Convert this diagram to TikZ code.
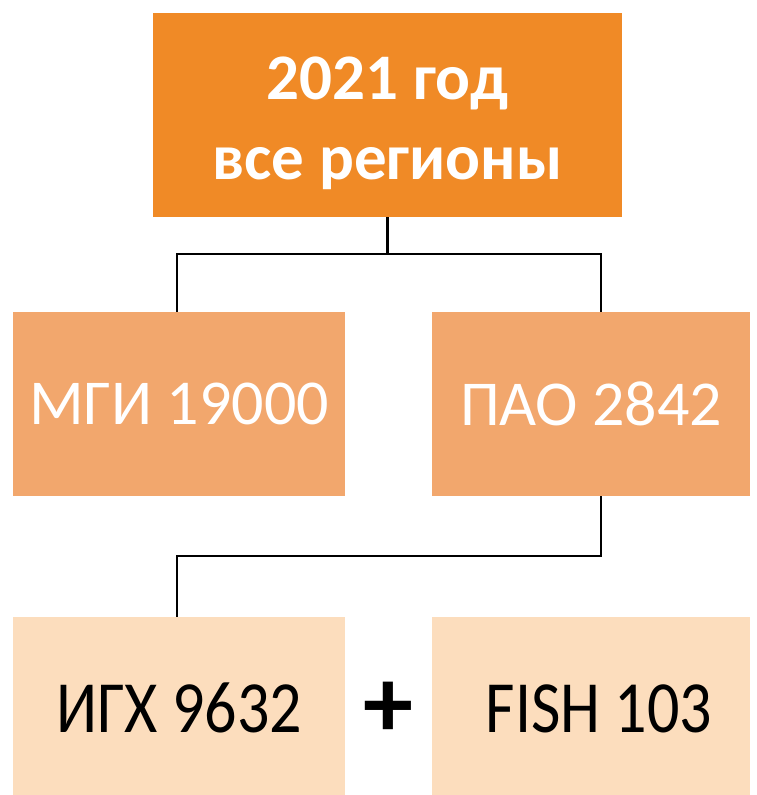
\documentclass[tikz,border=0pt]{standalone}
\usepackage{fontspec}
\setmainfont{Carlito}
\usepackage{tikz}
\usetikzlibrary{positioning}
\definecolor{yearOrange}{HTML}{F08A26}
\definecolor{regionOrange}{HTML}{F2A76D}
\definecolor{partPeach}{HTML}{FCDDBD}
\newcommand{\tallpart}[1]{\rule{0pt}{54pt}\scalebox{1}[1.15]{#1}}
\tikzset{
  treebox/.style={inner sep=0pt, align=center, font=\fontsize{64}{77}\selectfont},
  yearbox/.style={treebox, fill=yearOrange, text=white, font=\bfseries\fontsize{65}{80}\selectfont},
  regionbox/.style={treebox, fill=regionOrange, text=white},
  partbox/.style={treebox, fill=partPeach, text=black},
  treeline/.style={draw=black, line width=2.2pt}
}
\begin{document}
\begin{tikzpicture}[x=1pt, y=-1pt]
    \useasboundingbox[fill=white] (0,0) rectangle (757,795);
    \node[yearbox, minimum width=469pt, minimum height=204pt] (year) at (387.5,115)
      {\rule{0pt}{60pt}2021 год\\все регионы};

    \node[regionbox, minimum width=332pt, minimum height=184pt] (mgi) at (179,404)
      {МГИ 19000};
    \node[regionbox, minimum width=318pt, minimum height=184pt] (pao) at (591,404)
      {ПАО 2842};

    \node[partbox, minimum width=332pt, minimum height=178pt] (igh) at (179,706)
      {\tallpart{ИГХ 9632}};
    \node[partbox, minimum width=318pt, minimum height=178pt] (fish) at (591,706)
      {\hspace*{16pt}\tallpart{FISH 103}};
    \node[treebox, font=\bfseries\fontsize{100}{100}\selectfont] (plus) at (388,710) {+};

    \coordinate (split) at (year.south |- 0,254);
    \coordinate (join) at (pao.south |- 0,556);
    \draw[treeline] (year.south) -- (split);
    \draw[treeline] ([xshift=-2pt]mgi.north) -- ([xshift=-2pt]mgi.north |- split)
      -- ([xshift=10pt]pao.north |- split) -- ([xshift=10pt]pao.north);
    \draw[treeline] ([xshift=10pt]pao.south) -- ([xshift=10pt]pao.south |- join)
      -- ([xshift=-2pt]igh.north |- join) -- ([xshift=-2pt]igh.north);
  \end{tikzpicture}
\end{document}
